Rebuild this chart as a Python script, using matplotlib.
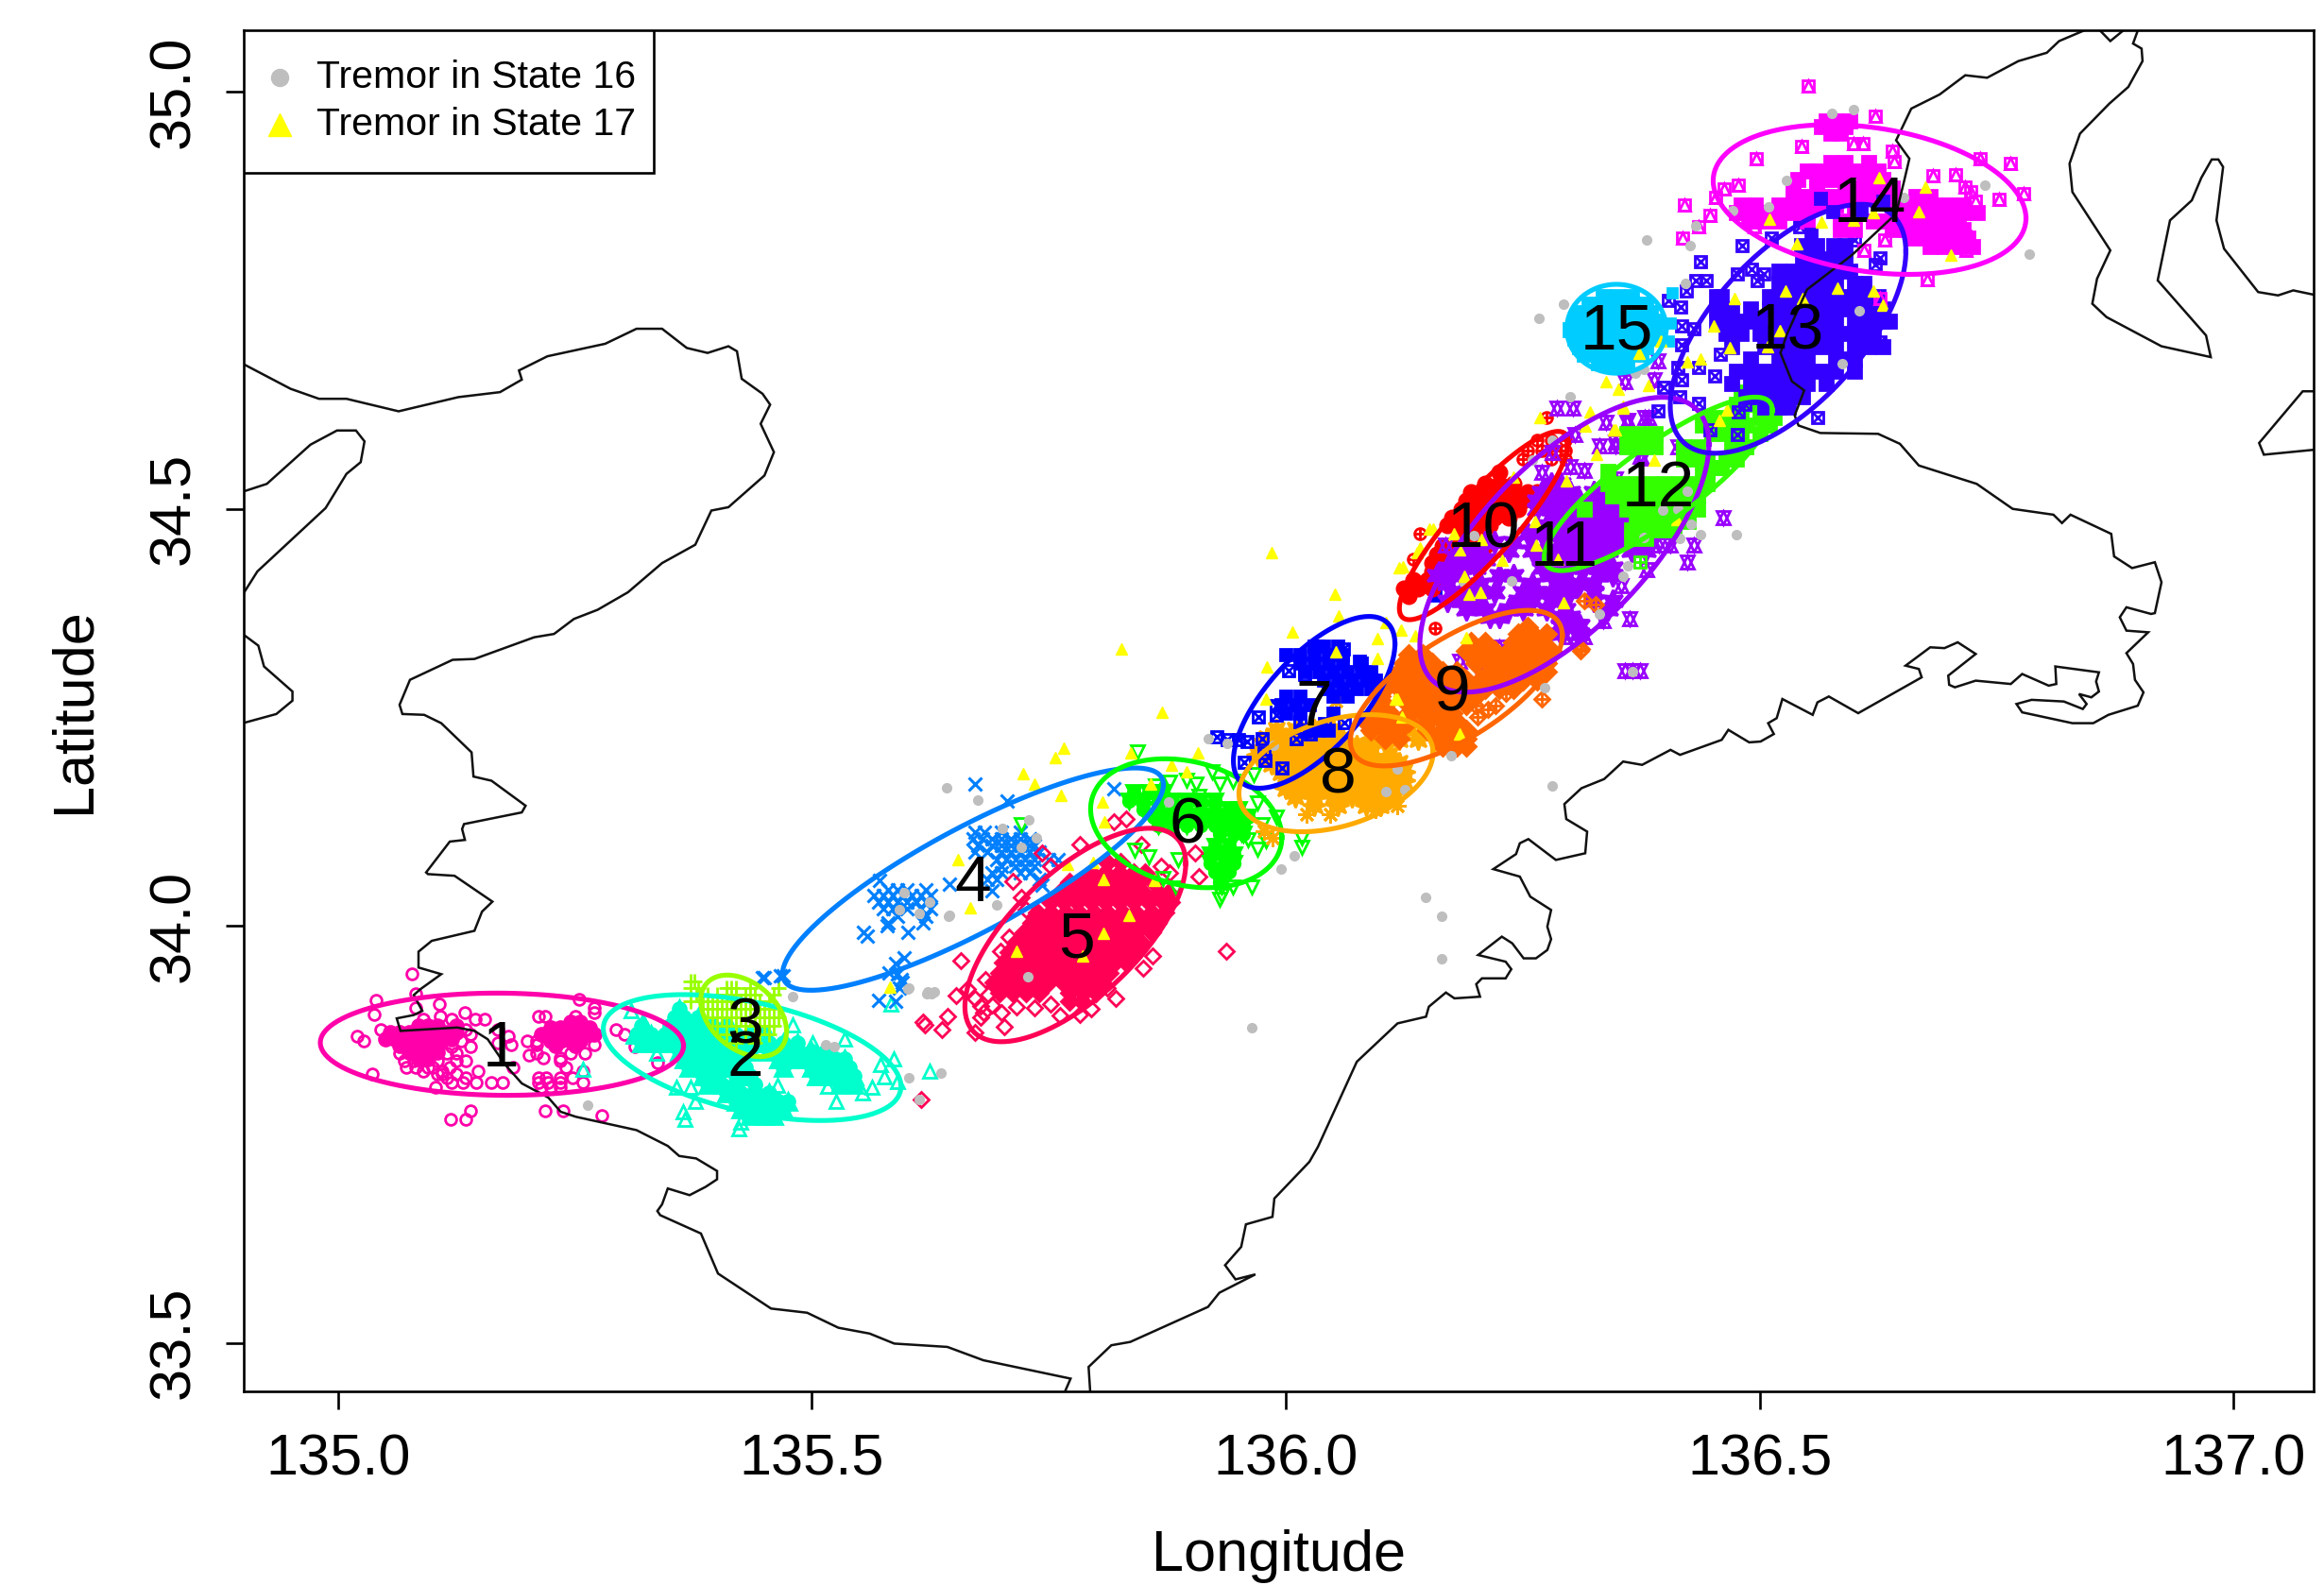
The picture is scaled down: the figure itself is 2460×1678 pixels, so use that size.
#!/usr/bin/env python
# -*- coding: utf-8 -*-

import numpy as np
from matplotlib import pyplot as plt
from matplotlib.patches import Rectangle

plt.rcParams['font.family'] = ['Liberation Sans', 'DejaVu Sans']


def from_rows(rows):
    """ expand (lat, [lon, lon, ...]) rows to a list of (lon, lat) """
    return [(lon, lat) for lat, lons in rows for lon in lons]


# coast lines (lon, lat)
coast_west = [(134.898, 34.675), (134.950, 34.644), (134.980, 34.632), (135.009, 34.632), (135.064, 34.617),
              (135.127, 34.634), (135.171, 34.640), (135.194, 34.655), (135.191, 34.666), (135.221, 34.683),
              (135.282, 34.698), (135.315, 34.716), (135.342, 34.716), (135.368, 34.693), (135.390, 34.687),
              (135.412, 34.695), (135.421, 34.689), (135.426, 34.656), (135.448, 34.638), (135.456, 34.625),
              (135.446, 34.602), (135.460, 34.568), (135.450, 34.540), (135.412, 34.502), (135.394, 34.498),
              (135.377, 34.457), (135.342, 34.435), (135.306, 34.400), (135.274, 34.379), (135.249, 34.368),
              (135.228, 34.350), (135.207, 34.346), (135.144, 34.320), (135.121, 34.319), (135.076, 34.295),
              (135.065, 34.265), (135.068, 34.254), (135.091, 34.253), (135.109, 34.243), (135.141, 34.208),
              (135.143, 34.179), (135.162, 34.174), (135.198, 34.144), (135.194, 34.136), (135.133, 34.122),
              (135.131, 34.116), (135.134, 34.103), (135.118, 34.101), (135.093, 34.064), (135.095, 34.062),
              (135.123, 34.060), (135.163, 34.029), (135.152, 34.017), (135.144, 33.994), (135.099, 33.982),
              (135.085, 33.969), (135.085, 33.950), (135.109, 33.942), (135.087, 33.924), (135.080, 33.917),
              (135.089, 33.898), (135.080, 33.893), (135.062, 33.889), (135.066, 33.874), (135.126, 33.878),
              (135.144, 33.874), (135.158, 33.864), (135.176, 33.834), (135.194, 33.811), (135.222, 33.794),
              (135.235, 33.777), (135.251, 33.771), (135.315, 33.755), (135.348, 33.736), (135.360, 33.724),
              (135.378, 33.721), (135.400, 33.706), (135.400, 33.696), (135.388, 33.687), (135.371, 33.677),
              (135.348, 33.685), (135.342, 33.666), (135.337, 33.658), (135.340, 33.653), (135.383, 33.631),
              (135.401, 33.583), (135.457, 33.541), (135.495, 33.536), (135.528, 33.518), (135.561, 33.511),
              (135.587, 33.499), (135.643, 33.495), (135.681, 33.479), (135.773, 33.457), (135.765, 33.436)]
coast_east = [(135.794, 33.436), (135.792, 33.471), (135.816, 33.497), (135.836, 33.501), (135.918, 33.543),
              (135.930, 33.560), (135.968, 33.582), (135.947, 33.576), (135.936, 33.593), (135.953, 33.615),
              (135.958, 33.642), (135.986, 33.651), (135.988, 33.673), (136.025, 33.717), (136.034, 33.735),
              (136.075, 33.837), (136.118, 33.883), (136.148, 33.891), (136.151, 33.903), (136.169, 33.920),
              (136.178, 33.913), (136.205, 33.915), (136.201, 33.930), (136.207, 33.937), (136.232, 33.937),
              (136.238, 33.948), (136.232, 33.957), (136.203, 33.965), (136.228, 33.987), (136.239, 33.979),
              (136.251, 33.961), (136.264, 33.961), (136.276, 33.971), (136.280, 33.984), (136.276, 33.999),
              (136.280, 34.019), (136.258, 34.035), (136.247, 34.059), (136.219, 34.068), (136.243, 34.086),
              (136.247, 34.099), (136.256, 34.104), (136.285, 34.079), (136.316, 34.087), (136.318, 34.113),
              (136.296, 34.128), (136.294, 34.146), (136.312, 34.165), (136.336, 34.176), (136.356, 34.197),
              (136.376, 34.193), (136.406, 34.211), (136.416, 34.205), (136.460, 34.223), (136.467, 34.235),
              (136.489, 34.220), (136.501, 34.221), (136.515, 34.230), (136.509, 34.243), (136.518, 34.249),
              (136.524, 34.272), (136.556, 34.253), (136.561, 34.268), (136.573, 34.275), (136.604, 34.255),
              (136.671, 34.298), (136.668, 34.308), (136.654, 34.312), (136.680, 34.334), (136.695, 34.333),
              (136.709, 34.340), (136.728, 34.326), (136.699, 34.300), (136.700, 34.289), (136.706, 34.286),
              (136.728, 34.294), (136.765, 34.290), (136.777, 34.302), (136.805, 34.288), (136.813, 34.290),
              (136.812, 34.311), (136.858, 34.304), (136.855, 34.293), (136.858, 34.281), (136.850, 34.274),
              (136.837, 34.278), (136.845, 34.266), (136.841, 34.260), (136.821, 34.269), (136.787, 34.271),
              (136.771, 34.266), (136.777, 34.256), (136.830, 34.243), (136.852, 34.243), (136.868, 34.253),
              (136.899, 34.264), (136.905, 34.280), (136.896, 34.295), (136.894, 34.314), (136.887, 34.327),
              (136.910, 34.352), (136.887, 34.354), (136.880, 34.370), (136.887, 34.382), (136.913, 34.374),
              (136.917, 34.375), (136.924, 34.412), (136.917, 34.436), (136.893, 34.429), (136.874, 34.443),
              (136.871, 34.470), (136.828, 34.493), (136.819, 34.483), (136.810, 34.493), (136.767, 34.500),
              (136.729, 34.530), (136.668, 34.552), (136.648, 34.578), (136.625, 34.590), (136.564, 34.591),
              (136.541, 34.600), (136.537, 34.612), (136.547, 34.642), (136.534, 34.653), (136.522, 34.687),
              (136.529, 34.710), (136.550, 34.763), (136.597, 34.804), (136.644, 34.854), (136.652, 34.891),
              (136.658, 34.920), (136.644, 34.942), (136.660, 34.980), (136.690, 34.997), (136.717, 35.020),
              (136.740, 35.017), (136.773, 35.037), (136.803, 35.047), (136.816, 35.061), (136.843, 35.074),
              (136.853, 35.080), (136.858, 35.075), (136.870, 35.061), (136.884, 35.074), (136.888, 35.080),
              (136.901, 35.080), (136.894, 35.058), (136.903, 35.052), (136.904, 35.037), (136.889, 35.006),
              (136.869, 34.986), (136.838, 34.950), (136.827, 34.914), (136.830, 34.880), (136.870, 34.810),
              (136.856, 34.776), (136.851, 34.746), (136.866, 34.730), (136.924, 34.695), (136.976, 34.682),
              (136.971, 34.708), (136.920, 34.774), (136.933, 34.846), (136.956, 34.870), (136.966, 34.897),
              (136.977, 34.919), (136.984, 34.919), (136.989, 34.910), (136.982, 34.846), (136.990, 34.812),
              (137.026, 34.760), (137.047, 34.756), (137.063, 34.762), (137.084, 34.757), (137.095, 34.754)]
coast_bay = [(134.890, 34.517), (134.925, 34.530), (134.971, 34.577), (134.999, 34.594), (135.019, 34.594),
             (135.028, 34.581), (135.024, 34.556), (135.009, 34.542), (134.987, 34.501), (134.915, 34.425),
             (134.890, 34.380)]
coast_cape = [(134.890, 34.358), (134.916, 34.336), (134.922, 34.311), (134.952, 34.281), (134.952, 34.270),
              (134.935, 34.254), (134.890, 34.240)]
coast_right = [(137.095, 34.641), (137.073, 34.641), (137.027, 34.579), (137.032, 34.565), (137.095, 34.572)]

# hidden state ellipses: centre, half extent along each axis, correlation
ell_lon = [135.173, 135.437, 135.428, 135.670, 135.778, 135.895, 136.030, 136.053,
           136.180, 136.209, 136.294, 136.393, 136.530, 136.616, 136.349]
ell_lat = [33.858, 33.842, 33.892, 34.056, 33.989, 34.123, 34.268, 34.183,
           34.285, 34.480, 34.457, 34.530, 34.716, 34.871, 34.716]
ell_a = [0.1916, 0.157, 0.0453, 0.2009, 0.1165, 0.1009, 0.0852, 0.1024,
         0.1118, 0.0891, 0.1525, 0.1204, 0.1243, 0.165, 0.0524]
ell_b = [0.0613, 0.0755, 0.0489, 0.1333, 0.128, 0.0773, 0.103, 0.0702,
         0.0933, 0.1129, 0.1768, 0.104, 0.1493, 0.0898, 0.0533]
ell_rho = [-0.03, -0.46, -0.38, 0.85, 0.67, -0.22, 0.68, 0.35,
           0.68, 0.88, 0.68, 0.85, 0.62, -0.25, 0.0]
state_labels = ['1', '2', '3', '4', '5', '6', '7', '8', '9', '10', '11', '12', '13', '14', '15']
label_lon = [135.172, 135.430, 135.430, 135.670, 135.779, 135.896, 136.030, 136.055,
             136.176, 136.209, 136.294, 136.393, 136.530, 136.616, 136.349]
label_lat = [33.852, 33.840, 33.879, 34.050, 33.983, 34.120, 34.261, 34.180,
             34.278, 34.474, 34.452, 34.524, 34.712, 34.865, 34.712]

s1_core = from_rows([
    (33.885, [135.245, 135.255]),
    (33.880, [135.085, 135.095, 135.105, 135.125]),
    (33.878, [135.225, 135.235, 135.245, 135.255, 135.265]),
    (33.872, [135.055, 135.065, 135.075, 135.085, 135.095, 135.105, 135.115, 135.125]),
    (33.870, [135.215, 135.225, 135.235, 135.245, 135.255, 135.265, 135.27]),
    (33.864, [135.05, 135.06, 135.07, 135.08, 135.09, 135.10, 135.11, 135.12]),
    (33.862, [135.225, 135.235, 135.245, 135.255]),
    (33.856, [135.065, 135.075, 135.085, 135.095, 135.105, 135.23, 135.25]),
    (33.848, [135.075, 135.085, 135.095, 135.105]),
    (33.840, [135.085, 135.095])])
s1_loose = from_rows([
    (33.942, [135.078]), (33.919, [135.082]), (33.912, [135.254]), (33.911, [135.040]), (33.906, [135.107]),
    (33.902, [135.082, 135.270]), (33.896, [135.134, 135.270]), (33.894, [135.038]),
    (33.891, [135.108, 135.212, 135.219, 135.25]), (33.888, [135.09, 135.12, 135.145, 135.155]),
    (33.876, [135.045, 135.135, 135.169, 135.293]), (33.870, [135.302, 135.14]), (33.868, [135.020, 135.180]),
    (33.862, [135.027, 135.13, 135.20, 135.21]), (33.860, [135.169]), (33.859, [135.332]),
    (33.857, [135.183, 135.21, 135.27]), (33.855, [135.313, 135.12, 135.14]),
    (33.847, [135.065, 135.115, 135.125, 135.21, 135.245, 135.26]), (33.845, [135.202]),
    (33.841, [135.217, 135.235]), (33.838, [135.07, 135.08, 135.105, 135.125, 135.135, 135.235]),
    (33.836, [135.337]), (33.830, [135.072, 135.082, 135.095, 135.10, 135.118, 135.185, 135.24]),
    (33.826, [135.09, 135.11, 135.148, 135.258]), (33.822, [135.036, 135.105, 135.11, 135.125]),
    (33.818, [135.115, 135.135, 135.212, 135.22, 135.235, 135.247]),
    (33.812, [135.12, 135.132, 135.146, 135.162, 135.174, 135.212, 135.222, 135.235, 135.258]),
    (33.806, [135.103, 135.215, 135.225, 135.235]), (33.778, [135.140, 135.219, 135.238]),
    (33.773, [135.278]), (33.768, [135.119, 135.135])])

s2_core = from_rows([
    (33.900, [135.36]),
    (33.890, [135.355, 135.365, 135.38]),
    (33.880, [135.32, 135.35, 135.365, 135.38, 135.395, 135.41]),
    (33.870, [135.315, 135.33, 135.345, 135.36, 135.375, 135.39, 135.405, 135.42, 135.435, 135.45]),
    (33.860, [135.32, 135.335, 135.35, 135.365, 135.38, 135.395, 135.41, 135.425, 135.44, 135.455, 135.47, 135.485]),
    (33.850, [135.36, 135.375, 135.39, 135.405, 135.42, 135.435, 135.455, 135.47, 135.485, 135.50, 135.515]),
    (33.840, [135.365, 135.38, 135.395, 135.41, 135.425, 135.465, 135.48, 135.495, 135.51, 135.525, 135.535]),
    (33.830, [135.37, 135.385, 135.40, 135.415, 135.43, 135.47, 135.50, 135.515, 135.53, 135.54]),
    (33.820, [135.385, 135.40, 135.42, 135.435, 135.505, 135.52, 135.535, 135.545]),
    (33.810, [135.39, 135.405, 135.42, 135.44, 135.53, 135.545]),
    (33.800, [135.41, 135.425, 135.44, 135.455]),
    (33.790, [135.42, 135.435, 135.45, 135.465, 135.475]),
    (33.780, [135.425, 135.44, 135.455, 135.47]),
    (33.772, [135.435, 135.45, 135.46])])
s2_loose = [(135.357, 33.807), (135.364, 33.777), (135.366, 33.768), (135.372, 33.807), (135.377, 33.789),
            (135.423, 33.757), (135.425, 33.764), (135.535, 33.864), (135.586, 33.840), (135.572, 33.834),
            (135.624, 33.826), (135.526, 33.789), (135.464, 33.809), (135.590, 33.813), (135.517, 33.808),
            (135.553, 33.80), (135.563, 33.807), (135.576, 33.819), (135.480, 33.881), (135.501, 33.860),
            (135.309, 33.898), (135.258, 33.828), (135.322, 33.885), (135.311, 33.868), (135.336, 33.847),
            (135.583, 33.906)]

s3_loose = from_rows([
    (33.933, [135.372, 135.376]),
    (33.925, [135.372, 135.38, 135.41, 135.415, 135.42, 135.435, 135.465]),
    (33.918, [135.378, 135.39, 135.40, 135.41, 135.42, 135.43, 135.44, 135.46]),
    (33.910, [135.372, 135.385, 135.395, 135.405, 135.415, 135.425, 135.435, 135.445, 135.455]),
    (33.900, [135.39, 135.40, 135.41, 135.42, 135.43, 135.44, 135.45, 135.46]),
    (33.890, [135.395, 135.405, 135.415, 135.425, 135.435, 135.445, 135.455, 135.465]),
    (33.880, [135.40, 135.41, 135.42, 135.43, 135.44, 135.45, 135.46]),
    (33.870, [135.41, 135.42, 135.43, 135.445, 135.455]),
    (33.860, [135.42, 135.44])])

s4_core = from_rows([
    (34.112, [135.672, 135.682, 135.70, 135.72]),
    (34.104, [135.67, 135.68, 135.69, 135.70, 135.71, 135.72, 135.73]),
    (34.096, [135.675, 135.69, 135.70, 135.71, 135.72, 135.73, 135.735]),
    (34.088, [135.672, 135.685, 135.70, 135.71, 135.72, 135.73, 135.74]),
    (34.080, [135.695, 135.705, 135.715, 135.725, 135.735, 135.75, 135.76]),
    (34.072, [135.70, 135.715, 135.725, 135.735]),
    (34.064, [135.69, 135.70, 135.72, 135.73]),
    (34.056, [135.685, 135.695, 135.74]),
    (34.043, [135.58, 135.59, 135.60, 135.62]),
    (34.036, [135.565, 135.575, 135.585, 135.595, 135.605, 135.615, 135.625]),
    (34.028, [135.57, 135.58, 135.59, 135.60, 135.61, 135.62]),
    (34.020, [135.575, 135.585, 135.60, 135.615, 135.625]),
    (34.012, [135.59, 135.62]),
    (34.004, [135.58, 135.617])])
s4_loose = [(135.672, 34.170), (135.706, 34.150), (135.819, 34.164), (135.645, 34.050), (135.690, 34.042),
            (135.554, 33.992), (135.558, 33.988), (135.601, 33.992), (135.579, 34.0), (135.571, 34.055),
            (135.597, 33.962), (135.588, 33.955), (135.594, 33.936), (135.592, 33.925), (135.570, 33.911),
            (135.588, 33.909), (135.450, 33.938), (135.470, 33.94), (135.743, 34.049), (135.448, 33.938),
            (135.467, 33.94), (135.590, 33.942), (135.581, 33.944), (135.595, 33.932)]

s5_core = from_rows([
    (34.076, [135.812, 135.826]),
    (34.064, [135.795, 135.81, 135.825, 135.84, 135.852]),
    (34.052, [135.772, 135.786, 135.80, 135.815, 135.83, 135.845, 135.86]),
    (34.040, [135.762, 135.776, 135.79, 135.805, 135.82, 135.835, 135.85, 135.865, 135.876]),
    (34.028, [135.752, 135.766, 135.78, 135.795, 135.81, 135.825, 135.84, 135.855, 135.87, 135.878]),
    (34.016, [135.738, 135.752, 135.768, 135.782, 135.798, 135.812, 135.828, 135.842, 135.858, 135.872]),
    (34.004, [135.732, 135.746, 135.76, 135.775, 135.79, 135.805, 135.82, 135.835, 135.85, 135.864]),
    (33.992, [135.724, 135.738, 135.752, 135.768, 135.782, 135.798, 135.812, 135.828, 135.842, 135.858]),
    (33.980, [135.715, 135.73, 135.745, 135.76, 135.775, 135.79, 135.805, 135.82, 135.835, 135.848]),
    (33.968, [135.708, 135.722, 135.738, 135.752, 135.768, 135.782, 135.798, 135.812, 135.828, 135.84]),
    (33.956, [135.702, 135.716, 135.73, 135.745, 135.76, 135.775, 135.79, 135.805, 135.82, 135.832]),
    (33.944, [135.698, 135.712, 135.726, 135.74, 135.755, 135.77, 135.785, 135.80, 135.814]),
    (33.932, [135.692, 135.706, 135.72, 135.735, 135.75, 135.765, 135.78, 135.795, 135.806]),
    (33.920, [135.698, 135.712, 135.726, 135.74, 135.772, 135.787, 135.80]),
    (33.910, [135.772, 135.785])])
s5_loose = [(135.657, 33.958), (135.652, 33.916), (135.617, 33.885), (135.619, 33.881), (135.643, 33.891),
            (135.637, 33.876), (135.672, 33.872), (135.703, 33.879), (135.735, 33.902), (135.681, 33.896),
            (135.672, 33.913), (135.683, 33.936), (135.699, 33.970), (135.708, 33.987), (135.721, 34.034),
            (135.726, 34.019), (135.739, 34.01), (135.712, 34.053), (135.743, 34.087), (135.752, 34.072),
            (135.783, 34.098), (135.819, 34.125), (135.832, 34.128), (135.848, 34.098), (135.868, 34.072),
            (135.904, 34.087), (135.908, 34.059), (135.937, 33.969), (135.821, 33.913), (135.783, 33.894),
            (135.850, 33.949), (135.859, 33.964), (135.877, 34.064), (135.690, 33.905), (135.678, 33.890),
            (135.615, 33.792), (135.664, 33.924), (135.678, 33.904), (135.686, 33.918), (135.700, 33.896),
            (135.716, 33.903), (135.752, 33.906), (135.762, 33.893), (135.795, 33.900), (135.812, 33.925)]

s6_core = from_rows([
    (34.160, [135.84, 135.855, 135.87]),
    (34.150, [135.835, 135.85, 135.865, 135.88, 135.895, 135.91, 135.925]),
    (34.140, [135.85, 135.865, 135.88, 135.895, 135.91, 135.925, 135.94, 135.95]),
    (34.130, [135.86, 135.875, 135.89, 135.905, 135.92, 135.935, 135.95, 135.96]),
    (34.120, [135.865, 135.88, 135.895, 135.91, 135.925, 135.94, 135.955]),
    (34.110, [135.93, 135.945, 135.955]),
    (34.095, [135.925, 135.94]),
    (34.085, [135.92, 135.935, 135.945]),
    (34.075, [135.92, 135.935, 135.945]),
    (34.065, [135.925, 135.94]),
    (34.052, [135.93])])
s6_loose = [(135.844, 34.209), (135.721, 34.121), (135.877, 34.172), (135.895, 34.175), (135.922, 34.185),
            (135.944, 34.174), (135.966, 34.181), (135.975, 34.121), (135.970, 34.092), (135.953, 34.110),
            (135.970, 34.147), (135.979, 34.102), (136.017, 34.106), (136.017, 34.094), (135.964, 34.047),
            (135.944, 34.047), (135.932, 34.047), (135.884, 34.045), (135.870, 34.057), (135.841, 34.091),
            (135.855, 34.083), (135.886, 34.079), (135.908, 34.155), (135.93, 34.17), (135.932, 34.036),
            (135.930, 34.032), (135.960, 34.103), (135.905, 34.170), (135.862, 34.168), (135.990, 34.130)]

s7_core = from_rows([
    (34.335, [136.03, 136.04, 136.055]),
    (34.325, [136.00, 136.015, 136.03, 136.045, 136.06]),
    (34.315, [136.015, 136.03, 136.045, 136.06, 136.08]),
    (34.305, [136.02, 136.035, 136.05, 136.065, 136.08, 136.09]),
    (34.295, [136.04, 136.055, 136.07, 136.085, 136.095]),
    (34.285, [136.045, 136.06, 136.075, 136.09]),
    (34.275, [136.0, 136.015, 136.05, 136.065]),
    (34.265, [135.995, 136.01, 136.025]),
    (34.255, [136.0, 136.015, 136.05]),
    (34.235, [136.025, 136.035, 136.045]),
    (34.397, [136.158])])
s7_loose = [(135.971, 34.250), (135.990, 34.264), (135.99, 34.253), (136.02, 34.302), (136.003, 34.306),
            (136.078, 34.317), (136.061, 34.332), (136.034, 34.336), (135.927, 34.227), (135.938, 34.223),
            (135.950, 34.223), (135.959, 34.221), (135.975, 34.225), (135.956, 34.196), (135.978, 34.198),
            (135.996, 34.189), (135.977, 34.208), (136.015, 34.245), (136.026, 34.230), (136.041, 34.242),
            (136.062, 34.244), (136.083, 34.249), (136.02, 34.234), (136.011, 34.225), (136.091, 34.295)]

s8_core = from_rows([
    (34.240, [136.09, 136.11, 136.13]),
    (34.235, [135.99, 136.01, 136.03, 136.05]),
    (34.225, [135.98, 136.00, 136.02, 136.04, 136.06, 136.09, 136.12, 136.14]),
    (34.215, [135.975, 135.995, 136.015, 136.035, 136.055, 136.075, 136.09]),
    (34.205, [135.97, 135.99, 136.01, 136.03, 136.05, 136.07, 136.09, 136.11]),
    (34.195, [135.985, 136.005, 136.025, 136.045, 136.065, 136.085, 136.105, 136.12]),
    (34.185, [135.995, 136.015, 136.035, 136.055, 136.075, 136.095, 136.115, 136.125]),
    (34.175, [136.01, 136.03, 136.05, 136.07, 136.09, 136.11, 136.125]),
    (34.165, [136.0, 136.02, 136.04, 136.06, 136.08, 136.10, 136.12]),
    (34.155, [136.01, 136.03, 136.05, 136.07, 136.09, 136.11]),
    (34.145, [136.03, 136.055, 136.085, 136.10])])
s8_loose = [(136.022, 34.134), (136.047, 34.134), (135.977, 34.113), (135.986, 34.106), (136.095, 34.14),
            (136.118, 34.144), (136.053, 34.27), (136.034, 34.23), (136.009, 34.221), (136.125, 34.23)]

s9_core = from_rows([
    (34.358, [136.255]),
    (34.350, [136.245, 136.26, 136.275]),
    (34.340, [136.195, 136.21, 136.24, 136.255, 136.27]),
    (34.330, [136.19, 136.205, 136.22, 136.235, 136.25, 136.265, 136.28]),
    (34.325, [136.13, 136.145]),
    (34.315, [136.125, 136.14, 136.155, 136.20, 136.215, 136.23, 136.245, 136.26, 136.275]),
    (34.305, [136.12, 136.135, 136.15, 136.165, 136.18, 136.215, 136.23, 136.245, 136.26, 136.275]),
    (34.295, [136.115, 136.13, 136.145, 136.16, 136.175, 136.19, 136.205, 136.22, 136.235, 136.25, 136.265]),
    (34.285, [136.105, 136.12, 136.135, 136.15, 136.165, 136.18, 136.195, 136.21, 136.225, 136.24]),
    (34.275, [136.10, 136.125, 136.14, 136.155, 136.17, 136.185, 136.20]),
    (34.265, [136.105, 136.13, 136.145, 136.16, 136.175, 136.19]),
    (34.255, [136.095, 136.11, 136.13, 136.145, 136.16, 136.175]),
    (34.245, [136.085, 136.10, 136.115, 136.13, 136.15, 136.165, 136.18]),
    (34.235, [136.09, 136.105, 136.12, 136.15, 136.165, 136.18, 136.19]),
    (34.225, [136.105, 136.12, 136.16, 136.175, 136.19]),
    (34.215, [136.165, 136.18, 136.19])])
s9_loose = [(136.27, 34.272), (136.202, 34.25), (136.213, 34.26), (136.221, 34.264), (136.20, 34.264),
            (136.232, 34.279), (136.312, 34.332), (136.315, 34.39), (136.327, 34.385), (136.311, 34.33)]

s10_core = from_rows([
    (34.544, [136.225]),
    (34.530, [136.21, 136.225, 136.24]),
    (34.520, [136.195, 136.21, 136.225, 136.24, 136.255, 136.265]),
    (34.510, [136.19, 136.205, 136.22, 136.235, 136.25, 136.262]),
    (34.500, [136.185, 136.20, 136.215, 136.23, 136.245]),
    (34.490, [136.175, 136.19, 136.205, 136.22, 136.235]),
    (34.480, [136.17, 136.185, 136.20, 136.215]),
    (34.470, [136.185, 136.20]),
    (34.455, [136.165, 136.18, 136.195, 136.21]),
    (34.445, [136.16, 136.175, 136.19, 136.205]),
    (34.435, [136.155, 136.17, 136.185]),
    (34.425, [136.155, 136.17]),
    (34.415, [136.135, 136.15, 136.165]),
    (34.405, [136.125, 136.14, 136.155]),
    (34.395, [136.13])])
s10_loose = [(136.158, 34.357), (136.275, 34.610), (136.142, 34.47), (136.135, 34.44), (136.265, 34.582),
             (136.28, 34.582), (136.295, 34.582), (136.255, 34.570), (136.27, 34.570), (136.285, 34.570),
             (136.295, 34.570), (136.28, 34.560), (136.295, 34.560), (136.25, 34.560)]

s11_core = from_rows([
    (34.530, [136.28, 136.29]),
    (34.520, [136.27, 136.285, 136.30, 136.325, 136.34]),
    (34.510, [136.265, 136.28, 136.295, 136.31, 136.325, 136.34, 136.355]),
    (34.500, [136.265, 136.28, 136.295, 136.31, 136.325, 136.34, 136.355, 136.37]),
    (34.490, [136.285, 136.30, 136.315, 136.33, 136.345, 136.36, 136.375]),
    (34.480, [136.275, 136.29, 136.305, 136.32, 136.335, 136.35, 136.365, 136.38]),
    (34.470, [136.255, 136.27, 136.285, 136.30, 136.315, 136.33, 136.345, 136.36, 136.375]),
    (34.460, [136.21, 136.22, 136.24, 136.29, 136.305, 136.32, 136.335, 136.35, 136.375, 136.385]),
    (34.450, [136.19, 136.205, 136.235, 136.26, 136.275, 136.29, 136.305, 136.32, 136.34, 136.365, 136.38]),
    (34.440, [136.18, 136.195, 136.21, 136.27, 136.285, 136.30, 136.315, 136.33]),
    (34.430, [136.17, 136.185, 136.20, 136.27, 136.285, 136.30, 136.315, 136.33, 136.345]),
    (34.420, [136.16, 136.175, 136.225, 136.24, 136.28, 136.295, 136.33, 136.345]),
    (34.410, [136.17, 136.19, 136.205, 136.26, 136.29, 136.31, 136.325]),
    (34.400, [136.175, 136.19, 136.205, 136.22, 136.25, 136.265, 136.28, 136.30, 136.325]),
    (34.390, [136.17, 136.185, 136.20, 136.245, 136.26, 136.28, 136.29, 136.325, 136.345]),
    (34.380, [136.19, 136.21, 136.235, 136.25, 136.275, 136.295, 136.34]),
    (34.370, [136.215, 136.225, 136.29, 136.30]),
    (34.360, [136.29, 136.305, 136.31]),
    (34.350, [136.29, 136.31])])
s11_loose = [(136.286, 34.621), (136.303, 34.621), (136.305, 34.589), (136.338, 34.604), (136.36, 34.604),
             (136.383, 34.610), (136.331, 34.576), (136.348, 34.576), (136.30, 34.551), (136.315, 34.546),
             (136.281, 34.568), (136.27, 34.544), (136.376, 34.561), (136.348, 34.536), (136.462, 34.489),
             (136.406, 34.457), (136.431, 34.457), (136.424, 34.436), (136.394, 34.457), (136.363, 34.368),
             (136.335, 34.366), (136.354, 34.408), (136.381, 34.427), (136.310, 34.359), (136.315, 34.347),
             (136.30, 34.347), (136.366, 34.306), (136.358, 34.306), (136.374, 34.306), (136.225, 34.334),
             (136.183, 34.317), (136.133, 34.306), (136.358, 34.653), (136.393, 34.678), (136.389, 34.655),
             (136.361, 34.606), (136.379, 34.610), (136.348, 34.580), (136.374, 34.563), (136.414, 34.574),
             (136.168, 34.457), (136.26, 34.33), (136.205, 34.30)]

s12_core = from_rows([
    (34.640, [136.48, 136.49]),
    (34.625, [136.475, 136.49, 136.50, 136.515]),
    (34.610, [136.45, 136.465, 136.48, 136.50, 136.515]),
    (34.600, [136.44, 136.455, 136.47, 136.485, 136.505, 136.51]),
    (34.590, [136.36, 136.375, 136.39, 136.45, 136.465, 136.48, 136.50]),
    (34.575, [136.36, 136.375, 136.39, 136.42, 136.435, 136.47, 136.485]),
    (34.560, [136.42, 136.435, 136.445, 136.465, 136.475]),
    (34.550, [136.455, 136.46]),
    (34.545, [136.34, 136.44, 136.445]),
    (34.530, [136.34, 136.355, 136.37, 136.385, 136.40, 136.415, 136.43, 136.445]),
    (34.515, [136.345, 136.36, 136.375, 136.39, 136.405, 136.42, 136.435]),
    (34.500, [136.315, 136.36, 136.375, 136.39, 136.405, 136.42, 136.435]),
    (34.485, [136.37, 136.385, 136.40, 136.41, 136.425]),
    (34.475, [136.365, 136.38, 136.395, 136.41]),
    (34.465, [136.365, 136.38])])
s12_loose = [(136.374, 34.436), (136.434, 34.515), (136.524, 34.665), (136.522, 34.634), (136.536, 34.65)]

s13_core = from_rows([
    (34.816, [136.544, 136.56, 136.578, 136.59]),
    (34.800, [136.545, 136.56, 136.575, 136.59]),
    (34.785, [136.52, 136.535, 136.55, 136.565, 136.58, 136.595]),
    (34.770, [136.52, 136.535, 136.55, 136.565, 136.58, 136.60, 136.61]),
    (34.755, [136.455, 136.46, 136.51, 136.525, 136.54, 136.555, 136.57, 136.585, 136.60, 136.615, 136.625]),
    (34.740, [136.455, 136.47, 136.49, 136.51, 136.525, 136.54, 136.555, 136.57, 136.585, 136.60, 136.615, 136.63]),
    (34.725, [136.455, 136.47, 136.485, 136.50, 136.52, 136.535, 136.55, 136.565, 136.58, 136.60, 136.615, 136.63,
              136.637]),
    (34.710, [136.465, 136.48, 136.50, 136.515, 136.53, 136.545, 136.56, 136.575, 136.59, 136.605, 136.62]),
    (34.695, [136.47, 136.505, 136.52, 136.535, 136.55, 136.565, 136.58, 136.60, 136.615, 136.63]),
    (34.680, [136.49, 136.52, 136.535, 136.55, 136.58, 136.59, 136.60]),
    (34.665, [136.475, 136.49, 136.505, 136.52, 136.535, 136.55, 136.565, 136.58, 136.60]),
    (34.650, [136.47, 136.49, 136.505, 136.52, 136.535, 136.55, 136.57]),
    (34.635, [136.485, 136.50, 136.515, 136.53, 136.545]),
    (34.622, [136.505, 136.52, 136.53])])
s13_loose = [(136.438, 34.797), (136.481, 34.816), (136.512, 34.825), (136.542, 34.838), (136.433, 34.774),
             (136.444, 34.774), (136.423, 34.761), (136.404, 34.750), (136.417, 34.742), (136.418, 34.720),
             (136.431, 34.716), (136.418, 34.697), (136.414, 34.670), (136.436, 34.670), (136.453, 34.659),
             (136.418, 34.655), (136.416, 34.634), (136.399, 34.646), (136.459, 34.685), (136.476, 34.782),
             (136.491, 34.787), (136.504, 34.782), (136.497, 34.774), (136.436, 34.627), (136.393, 34.617),
             (136.561, 34.610), (136.627, 34.700), (136.604, 34.704), (136.604, 34.717), (136.622, 34.793),
             (136.627, 34.801), (136.600, 34.823), (136.477, 34.616), (136.484, 34.625), (136.448, 34.595),
             (136.476, 34.589)]
s13_top = [(136.577, 34.857), (136.607, 34.857), (136.630, 34.869), (136.564, 34.872), (136.554, 34.829)]

s14_core = from_rows([
    (34.965, [136.57, 136.58, 136.595]),
    (34.958, [136.565, 136.58, 136.59]),
    (34.950, [136.575, 136.585]),
    (34.915, [136.575, 136.59, 136.615]),
    (34.905, [136.55, 136.56, 136.575, 136.59, 136.60, 136.615, 136.625]),
    (34.895, [136.54, 136.56, 136.575, 136.59, 136.61, 136.62, 136.63]),
    (34.885, [136.535, 136.56, 136.59, 136.60, 136.615, 136.63, 136.64]),
    (34.875, [136.535, 136.55, 136.565, 136.58, 136.595, 136.61, 136.625, 136.64, 136.665, 136.68]),
    (34.865, [136.48, 136.495, 136.52, 136.535, 136.55, 136.565, 136.58, 136.64, 136.655, 136.67, 136.685, 136.70,
              136.715]),
    (34.855, [136.475, 136.49, 136.505, 136.52, 136.535, 136.55, 136.60, 136.655, 136.67, 136.685, 136.70, 136.715,
              136.73]),
    (34.845, [136.49, 136.505, 136.52, 136.55, 136.585, 136.62, 136.635, 136.65, 136.665, 136.68, 136.695, 136.71]),
    (34.835, [136.585, 136.60, 136.64, 136.655, 136.67, 136.685, 136.70, 136.715]),
    (34.825, [136.66, 136.675, 136.69, 136.705, 136.72]),
    (34.815, [136.68, 136.695, 136.71, 136.725])])
s14_loose = [(136.551, 35.007), (136.622, 34.971), (136.544, 34.935), (136.496, 34.920), (136.599, 34.938),
             (136.609, 34.938), (136.640, 34.929), (136.642, 34.916), (136.421, 34.865), (136.448, 34.852),
             (136.436, 34.838), (136.419, 34.825), (136.463, 34.884), (136.477, 34.888), (136.454, 34.874),
             (136.733, 34.920), (136.765, 34.914), (136.707, 34.901), (136.683, 34.899), (136.778, 34.878),
             (136.753, 34.871), (136.717, 34.886), (136.723, 34.880), (136.728, 34.869), (136.717, 34.827),
             (136.718, 34.810), (136.677, 34.775), (136.632, 34.823), (136.610, 34.810), (136.627, 34.752),
             (136.494, 34.838), (136.487, 34.848)]

s15_core = from_rows([
    (34.755, [136.335, 136.35, 136.365]),
    (34.745, [136.32, 136.335, 136.35, 136.365, 136.38]),
    (34.735, [136.31, 136.325, 136.34, 136.355, 136.37, 136.385]),
    (34.725, [136.305, 136.32, 136.335, 136.35, 136.365, 136.38, 136.39]),
    (34.715, [136.30, 136.315, 136.33, 136.345, 136.36, 136.375, 136.39]),
    (34.705, [136.305, 136.32, 136.335, 136.35, 136.365, 136.38, 136.39]),
    (34.695, [136.31, 136.325, 136.34, 136.355, 136.37, 136.38]),
    (34.685, [136.315, 136.33, 136.345, 136.36, 136.375]),
    (34.675, [136.33, 136.345, 136.36])])
s15_extra = [(136.408, 34.759), (136.406, 34.723), (136.404, 34.701)]

tremor16 = [(135.263, 33.785), (135.480, 33.915), (135.515, 33.857), (135.524, 33.855), (135.602, 33.925),
            (135.622, 33.921), (135.629, 33.921), (135.636, 33.823), (135.602, 33.818), (135.613, 33.792),
            (135.592, 34.019), (135.613, 34.015), (135.645, 34.013), (135.624, 34.028), (135.642, 34.166),
            (135.675, 34.151), (135.729, 34.127), (135.701, 34.117), (135.737, 34.106), (135.721, 34.094),
            (135.695, 34.025), (135.644, 34.012), (135.597, 34.040), (135.728, 33.939), (135.601, 33.924),
            (135.621, 33.919), (135.626, 33.919), (136.009, 34.084), (135.995, 34.068), (136.281, 34.168),
            (136.148, 34.034), (136.164, 34.011), (136.164, 33.961), (135.964, 33.878), (135.918, 34.224),
            (135.938, 34.219), (135.987, 34.217), (136.174, 34.204), (136.106, 34.161), (136.126, 34.163),
            (136.118, 34.188), (136.273, 34.286), (136.366, 34.305), (135.876, 34.149), (136.300, 34.634),
            (136.260, 34.559), (136.281, 34.582), (136.198, 34.468), (136.187, 34.412), (136.238, 34.414),
            (136.361, 34.432), (136.356, 34.419), (136.331, 34.374), (136.475, 34.469), (136.438, 34.469),
            (136.424, 34.521), (136.414, 34.500), (136.398, 34.499), (136.428, 34.482), (136.416, 34.465),
            (136.378, 34.466), (136.381, 34.822), (136.427, 34.816), (136.433, 34.839), (136.471, 34.858),
            (136.509, 34.862), (136.528, 34.894), (136.576, 34.974), (136.599, 34.979), (136.738, 34.888),
            (136.784, 34.806), (136.652, 34.873), (136.422, 34.770), (136.587, 34.674), (136.605, 34.738),
            (136.369, 34.663), (136.378, 34.667), (136.267, 34.728), (136.293, 34.746)]
tremor17 = [(135.869, 34.256), (135.766, 34.213), (135.757, 34.202), (135.723, 34.182), (135.763, 34.157),
            (135.837, 34.208), (135.907, 34.208), (135.807, 34.148), (135.809, 34.125), (135.654, 34.079),
            (135.667, 34.022), (135.716, 33.970), (135.582, 33.926), (135.735, 34.170), (135.857, 34.17),
            (135.895, 34.185), (135.879, 34.193), (135.770, 34.074), (135.797, 34.076), (135.835, 34.013),
            (135.808, 33.991), (135.786, 33.964), (135.808, 34.056), (135.861, 34.054), (135.827, 34.332),
            (136.007, 34.352), (135.985, 34.448), (136.052, 34.398), (136.056, 34.372), (135.980, 34.310),
            (135.979, 34.272), (136.097, 34.344), (136.097, 34.321), (136.122, 34.355), (136.106, 34.364),
            (136.137, 34.348), (136.12, 34.430), (136.139, 34.448), (136.156, 34.476), (136.116, 34.272),
            (136.123, 34.251), (136.190, 34.346), (136.264, 34.457), (136.287, 34.440), (136.183, 34.230),
            (136.053, 34.329), (136.124, 34.431), (136.142, 34.453), (136.152, 34.476), (136.177, 34.470),
            (136.183, 34.451), (136.206, 34.463), (136.228, 34.438), (136.188, 34.419), (136.205, 34.400),
            (136.193, 34.398), (136.240, 34.538), (136.296, 34.534), (136.263, 34.485), (136.293, 34.387),
            (136.268, 34.610), (136.316, 34.599), (136.328, 34.565), (136.356, 34.621), (136.321, 34.616),
            (136.346, 34.595), (136.389, 34.559), (136.413, 34.487), (136.626, 34.897), (136.675, 34.886),
            (136.668, 34.857), (136.702, 34.804), (136.510, 34.848), (136.565, 34.844), (136.599, 34.846),
            (136.620, 34.855), (136.539, 34.818), (136.527, 34.761), (136.473, 34.752), (136.452, 34.719),
            (136.508, 34.694), (136.545, 34.752), (136.582, 34.765), (136.620, 34.761), (136.630, 34.744),
            (136.438, 34.680), (136.424, 34.676), (136.469, 34.693), (136.458, 34.606), (136.466, 34.619),
            (136.521, 34.714), (136.373, 34.687), (136.396, 34.701), (136.351, 34.644), (136.383, 34.648),
            (136.338, 34.653), (136.356, 34.623), (136.348, 34.595), (136.118, 34.272)]

state_colors = ['#ff00aa', '#00ffcc', '#99ff00', '#0080ff', '#ff0055', '#00ff00', '#0000ff', '#ffaa00',
                '#ff6600', '#ff0000', '#9900ff', '#33ff00', '#3300ff', '#ff00ff', '#00ccff']
legend_labels = ['Tremor in State 16', 'Tremor in State 17']
legend_lat = [35.0173, 34.9607]
EDGE = 2.0


def scatter(ax, points, color, marker, ms, filled=False, mew=EDGE):
    if not points:
        return
    xy = np.array(points)
    ax.plot(xy[:, 0], xy[:, 1], ls='none', marker=marker, ms=ms, mew=mew, mec=color,
            mfc=color if filled else 'none')


def state(ax, core, loose, color, marks, core_marker, ms, core_ms=None):
    """ solid part of a cluster first, then the separate open symbols """
    scatter(ax, core, color, core_marker, core_ms or ms, filled=True)
    for m in marks:
        scatter(ax, loose, color, m, ms)


if __name__ == "__main__":
    fig = plt.figure(figsize=(24.6, 16.78), dpi=100)
    ax = fig.add_axes([258 / 2460, 1 - 1473 / 1678, (2449 - 258) / 2460, (1473 - 32) / 1678])

    star8 = (8, 1, 0)
    ast8 = (8, 2, 0)
    star6 = (6, 1, 0)
    state(ax, s1_core, s1_loose, state_colors[0], ['o'], 'o', 8.5, 10)
    scatter(ax, s2_core, state_colors[1], 'o', 10, filled=True)
    state(ax, s2_core, s2_loose, state_colors[1], ['^'], '^', 10.5, 13)
    state(ax, [], s3_loose, state_colors[2], ['+'], '+', 12)
    for pts in (s4_core, s4_loose):
        scatter(ax, pts, state_colors[3], 'x', 10, mew=2.2)
    state(ax, s5_core, s5_loose, state_colors[4], ['D'], 'D', 8, 9)
    scatter(ax, s6_core, state_colors[5], 'o', 9, filled=True)
    state(ax, s6_core, s6_loose, state_colors[5], ['v'], 'v', 10.5, 12)
    state(ax, s8_core, s8_loose, state_colors[7], [ast8], star8, 13, 17)
    state(ax, s7_core, s7_loose, state_colors[6], ['s', 'x'], 's', 8.5, 9)
    state(ax, s10_core, s10_loose, state_colors[9], ['o', '+'], 'o', 8.5, 11)
    state(ax, s11_core, s11_loose, state_colors[10], ['^', 'v'], star6, 10, 17)
    state(ax, s9_core, s9_loose, state_colors[8], ['D', '+'], 'D', 8, 10)
    state(ax, s12_core, s12_loose, state_colors[11], ['s', '+'], 's', 8.5, 10)
    state(ax, s13_core, s13_loose, state_colors[12], ['s', 'x'], 's', 8.5, 10)
    state(ax, s14_core, s14_loose, state_colors[13], ['s', '^'], 's', 8.5, 10)
    scatter(ax, s13_top, state_colors[12], 's', 9, filled=True)
    scatter(ax, s15_core, state_colors[14], 's', 9.5, filled=True)
    scatter(ax, s15_extra, state_colors[14], 's', 7, filled=True)
    scatter(ax, tremor16, '#bebebe', 'o', 7, filled=True, mew=1)
    scatter(ax, tremor17, '#ffff00', '^', 9, filled=True, mew=1)

    # the map goes over the symbols, the ellipses over the map
    for line in (coast_west, coast_east, coast_bay, coast_cape, coast_right):
        xy = np.array(line)
        ax.plot(xy[:, 0], xy[:, 1], color='#111111', lw=1.8, solid_joinstyle='miter')

    # parametric form of the 15 state ellipses
    t = np.linspace(0, 2 * np.pi, 241)
    for i in range(len(ell_lon)):
        ex = ell_lon[i] + ell_a[i] * np.cos(t)
        ey = ell_lat[i] + ell_b[i] * (ell_rho[i] * np.cos(t) + np.sqrt(1 - ell_rho[i] ** 2) * np.sin(t))
        ax.plot(ex, ey, color=state_colors[i], lw=3.7)
    for i in range(len(state_labels)):
        ax.text(label_lon[i], label_lat[i], state_labels[i], fontsize=50, ha='center', va='center', color='black')

    ax.set_xlim(134.9006, 137.0845)
    ax.set_ylim(33.4417, 35.074)
    ax.set_xticks([135.0, 135.5, 136.0, 136.5, 137.0])
    ax.set_xticklabels(['135.0', '135.5', '136.0', '136.5', '137.0'])
    ax.set_yticks([33.5, 34.0, 34.5, 35.0])
    ax.set_yticklabels(['33.5', '34.0', '34.5', '35.0'], rotation=90, va='center')
    ax.tick_params(length=14, width=1.9, labelsize=44, pad=18)
    for sp in ax.spines.values():
        sp.set_linewidth(1.9)
    ax.set_xlabel('Longitude', fontsize=44, labelpad=32)
    ax.set_ylabel('Latitude', fontsize=44, labelpad=35)

    # legend box in the corner, R style
    ax.add_patch(Rectangle((0, 1 - 0.105), 0.198, 0.105, transform=ax.transAxes, fc='white', ec='black',
                           lw=1.9, zorder=10))
    ax.plot(134.9385, legend_lat[0], ls='none', marker='o', ms=13, color='#bebebe', zorder=11)
    ax.plot(134.9385, legend_lat[1], ls='none', marker='^', ms=17, color='#ffff00', zorder=11)
    for lat, name in zip(legend_lat, legend_labels):
        ax.text(134.9775, lat, name, fontsize=29.5, va='center', ha='left', color='black', zorder=11)

    fig.savefig('out.png', dpi=100)
